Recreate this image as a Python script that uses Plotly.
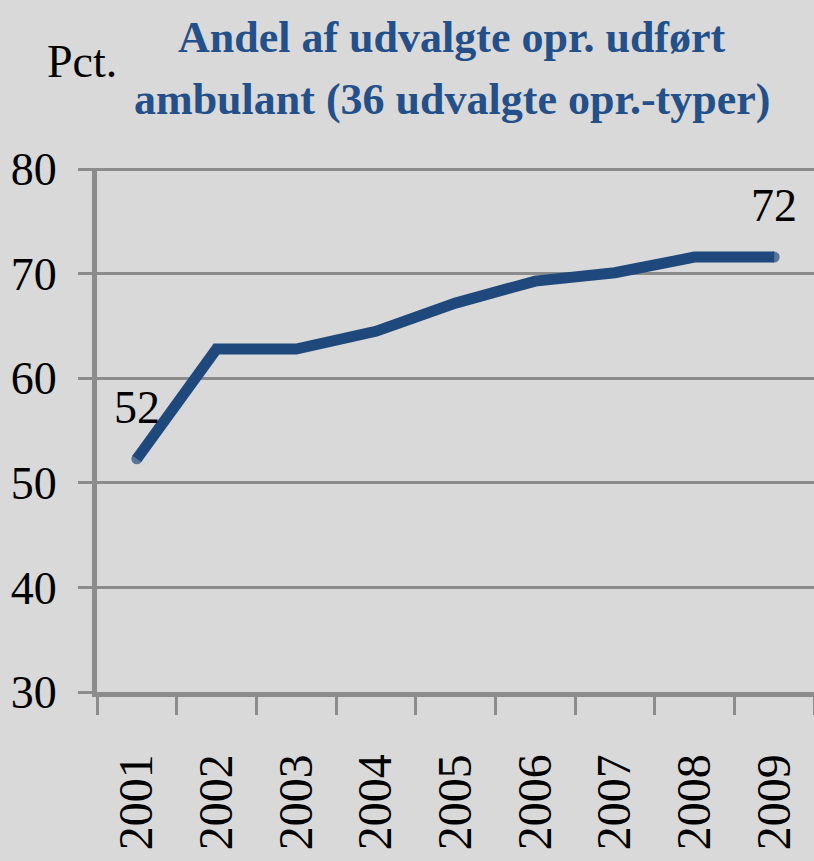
import plotly.graph_objects as go

years = ["2001", "2002", "2003", "2004", "2005", "2006", "2007", "2008", "2009"]
values = [52.3, 62.8, 62.8, 64.5, 67.2, 69.3, 70.1, 71.6, 71.6]
y_ticks = [30, 40, 50, 60, 70, 80]

title_lines = ["Andel af udvalgte opr. udført", "ambulant (36 udvalgte opr.-typer)"]
unit_text = "Pct."

BLUE = "#1f497d"
TITLE_BLUE = "#24508a"
GRID = "#8c8c8c"
BG = "#d9d9d9"
SERIF = "Liberation Serif, Times New Roman, serif"

W, H = 814, 861
L, R, T, B = 97, 0, 168, 169
PW, PH = W - L - R, H - T - B

n = len(years)
LW = 11

fig = go.Figure()
fig.add_trace(go.Scatter(
    x=years, y=values, mode="lines+markers",
    line=dict(color=BLUE, width=LW),
    marker=dict(color=BLUE, size=[LW if i in (0, n - 1) else 0 for i in range(n)],
                line=dict(width=0)),
    hoverinfo="skip", showlegend=False,
))

for i in (0, n - 1):
    fig.add_annotation(
        x=i, y=values[i], xref="x", yref="y", text=str(round(values[i])),
        showarrow=False, yanchor="bottom", yshift=24,
        font=dict(family=SERIF, size=46, color="black"),
    )

for line, yc in zip(title_lines, [37, 99]):
    fig.add_annotation(
        xref="paper", yref="paper",
        x=(452 - L) / PW, y=(T + PH - yc) / PH,
        xanchor="center", yanchor="middle",
        text="<b>" + line + "</b>", showarrow=False,
        font=dict(family=SERIF, size=44, color=TITLE_BLUE),
    )

fig.add_annotation(
    xref="paper", yref="paper",
    x=(82 - L) / PW, y=(T + PH - 62) / PH, xanchor="center", yanchor="middle",
    text=unit_text, showarrow=False,
    font=dict(family=SERIF, size=46, color="black"),
)

fig.update_layout(
    width=W, height=H,
    paper_bgcolor=BG, plot_bgcolor=BG,
    margin=dict(l=L, r=R, t=T, b=B, autoexpand=False),
    xaxis=dict(
        type="category", range=[-0.5, n - 0.5], automargin=False,
        showgrid=False, zeroline=False,
        showline=True, linecolor=GRID, linewidth=5,
        ticks="outside", tickson="boundaries", ticklen=18, tickwidth=3, tickcolor=GRID,
        tickangle=-90, ticklabelstandoff=38,
        tickfont=dict(family=SERIF, size=48, color="black"),
    ),
    yaxis=dict(
        range=[30, 80.12], tickvals=y_ticks, automargin=False,
        showgrid=True, gridcolor=GRID, gridwidth=3,
        zeroline=False,
        showline=True, linecolor=GRID, linewidth=5,
        ticks="outside", ticklen=14, tickwidth=3, tickcolor=GRID,
        ticklabelstandoff=12,
        tickfont=dict(family=SERIF, size=46, color="black"),
    ),
)

fig.write_html(
    "out.html",
    config={"displayModeBar": False},
    post_script="document.body.style.margin='0';document.body.style.overflow='hidden';"
                "document.documentElement.style.overflow='hidden';"
                "document.body.style.background='" + BG + "';",
)
